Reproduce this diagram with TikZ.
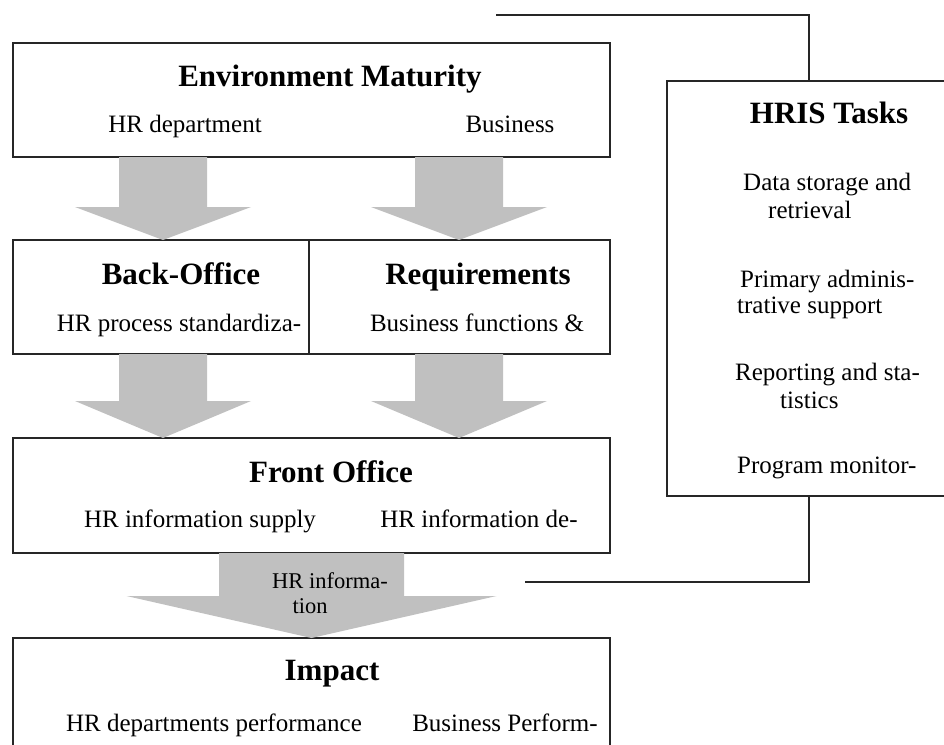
\documentclass[tikz,border=0pt]{standalone}
\usepackage{fontspec}
\setmainfont{Liberation Serif}
\usetikzlibrary{positioning,calc}

\definecolor{fatgray}{RGB}{192,192,192}

% wide gray arrow from one box down to the next
\newcommand{\fatarrow}[6]{%
  \fill[fatgray] (#1.south -| #3-#4,0) -- (#1.south -| #3+#4,0)
    -- ($(#2.north -| #3+#4,0)+(0,-#6)$) -- ($(#2.north -| #3+#5,0)+(0,-#6)$)
    -- (#2.north -| #3,0)
    -- ($(#2.north -| #3-#5,0)+(0,-#6)$) -- ($(#2.north -| #3-#4,0)+(0,-#6)$) -- cycle;}

\begin{document}
\begin{tikzpicture}[x=1pt, y=-1pt,
  box/.style={draw=black!85, line width=1.3pt, inner sep=0pt, outer sep=0pt},
  head/.style={font=\fontsize{31}{34}\selectfont\bfseries, inner sep=0pt, anchor=base},
  txt/.style={font=\fontsize{25}{28}\selectfont, inner sep=0pt, anchor=base},
  hristxt/.style={txt, anchor=base west},
  link/.style={draw=black!85, line width=1.3pt}]

\useasboundingbox (0,0) rectangle (944,744);
\clip (0,0) rectangle (944,744);

% Boxes
\node[box, minimum width=597pt, minimum height=114pt] (env) at (311.5,100) {};
\node[box, minimum width=296pt, minimum height=114pt] (back) at (161,297) {};
\node[box, minimum width=301pt, minimum height=114pt] (req) at (459.5,297) {};
\node[box, minimum width=597pt, minimum height=115pt] (front) at (311.5,495.5) {};
\node[box, minimum width=597pt, minimum height=130pt] (impact) at (311.5,703) {};
\node[box, minimum width=284pt, minimum height=415pt] (hris) at (809,288.5) {};

% Gray arrows
\fatarrow{env}{back}{163}{44}{88}{33}
\fatarrow{env}{req}{459}{44}{88}{33}
\fatarrow{back}{front}{163}{44}{88}{37}
\fatarrow{req}{front}{459}{44}{88}{37}
\fatarrow{front}{impact}{311.5}{92.5}{185}{42}

% Texts
\node[head] (envtitle) at (330,86) {Environment Maturity};
\node[txt] (envhr) at (185,132) {HR department};
\node[txt] (envbus) at (510,132) {Business};

\node[head] (backtitle) at (181,284) {Back-Office};
\node[head] (reqtitle) at (478,284) {Requirements};
\node[txt] (backtxt) at (179,331) {HR process standardiza-};
\node[txt] (reqtxt) at (477,331) {Business functions \&};

\node[head] (fronttitle) at (331,482) {Front Office};
\node[txt] (frontsup) at (200,527) {HR information supply};
\node[txt] (frontdem) at (479,527) {HR information de-};

\node[txt, font=\fontsize{22.5}{25}\selectfont] (flow1) at (330,588) {HR informa-};
\node[txt, font=\fontsize{22.5}{25}\selectfont] (flow2) at (310,613) {tion};

\node[head] (imptitle) at (332,680) {Impact};
\node[txt] (imphr) at (214,731) {HR departments performance};
\node[txt] (impbus) at (505,731) {Business Perform-};

\node[head] (hristitle) at (829,123) {HRIS Tasks};
\node[hristxt] (task1a) at (743,190) {Data storage and};
\node[hristxt] (task1b) at (768,218) {retrieval};
\node[hristxt] (task2a) at (740,287) {Primary adminis-};
\node[hristxt] (task2b) at (737,313) {trative support};
\node[hristxt] (task3a) at (735,380) {Reporting and sta-};
\node[hristxt] (task3b) at (780,408) {tistics};
\node[hristxt] (task4a) at (737,473) {Program monitor-};

% Connectors to HRIS
\coordinate (topend) at (496,15);
\coordinate (botend) at (525,582);
\draw[link] (topend) -| (hris.north);
\draw[link] (botend) -| (hris.south);

\end{tikzpicture}
\end{document}
